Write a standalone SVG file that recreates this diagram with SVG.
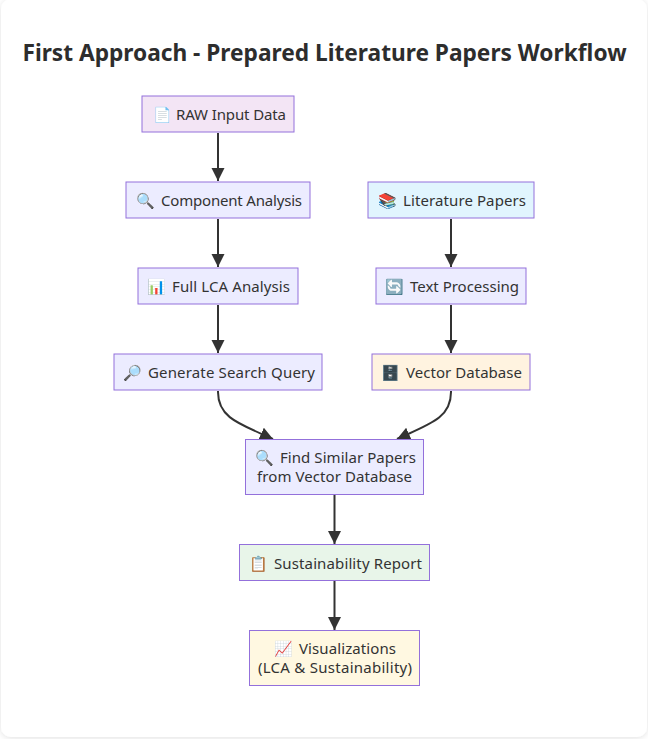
<svg xmlns="http://www.w3.org/2000/svg" width="648" height="739" viewBox="0 0 648 739">
<style>
text{font-family:"Noto Sans","Open Sans",sans-serif;fill:#333;font-size:15px}
.title{font-size:22.700px;font-weight:700;fill:#2d2d2d;text-anchor:middle}
.n{stroke:#9370db;stroke-width:1;fill:#ececff}
.e{fill:none;stroke:#333;stroke-width:2}
</style>
<defs>
<marker id="a" markerUnits="userSpaceOnUse" markerWidth="15" markerHeight="15" refX="13" refY="6.500" orient="auto"><path d="M0 0L13 6.500L0 13z" fill="#333"/></marker>
<filter id="s" x="-5%" y="-5%" width="110%" height="110%"><feDropShadow dx="0" dy="1" stdDeviation="3" flood-color="#000" flood-opacity=".12"/></filter>
</defs>
<rect width="648" height="739" fill="#fff"/>
<rect x="1" y="-1" width="646" height="738" rx="10" fill="#fff" filter="url(#s)"/>
<text class="title" x="324.500" y="61">First Approach - Prepared Literature Papers Workflow</text>
<g id="connectors">
<path class="e" marker-end="url(#a)" d="M218 133V181"/>
<path class="e" marker-end="url(#a)" d="M218 219V267"/>
<path class="e" marker-end="url(#a)" d="M218 305V353"/>
<path class="e" marker-end="url(#a)" d="M451 219V267"/>
<path class="e" marker-end="url(#a)" d="M451 305V353"/>
<path class="e" marker-end="url(#a)" d="M218 391V392C218 418 240 424 273 439"/>
<path class="e" marker-end="url(#a)" d="M451 391V392C451 418 430 424 397 439"/>
<path class="e" marker-end="url(#a)" d="M334.500 495V544"/>
<path class="e" marker-end="url(#a)" d="M334.500 581V630"/>
</g>
<g id="raw"><rect class="n" style="fill:#f3e5f5" x="142" y="96" width="152" height="36"/><text y="120"><tspan x="153">📄</tspan><tspan x="176" textLength="110">RAW Input Data</tspan></text></g>
<g id="component"><rect class="n" x="126" y="182" width="184" height="36"/><text y="206"><tspan x="136">🔍</tspan><tspan x="161" textLength="141">Component Analysis</tspan></text></g>
<g id="lca"><rect class="n" x="138" y="268" width="160" height="36"/><text y="292"><tspan x="147">📊</tspan><tspan x="172" textLength="118">Full LCA Analysis</tspan></text></g>
<g id="query"><rect class="n" x="114" y="354" width="208" height="36"/><text y="378"><tspan x="123">🔎</tspan><tspan x="148" textLength="167">Generate Search Query</tspan></text></g>
<g id="papers"><rect class="n" style="fill:#e1f5fe" x="368" y="182" width="166" height="36"/><text y="206"><tspan x="378">📚</tspan><tspan x="403" textLength="123">Literature Papers</tspan></text></g>
<g id="text"><rect class="n" x="376" y="268" width="150" height="36"/><text y="292"><tspan x="385">🔄</tspan><tspan x="410" textLength="109">Text Processing</tspan></text></g>
<g id="vector"><rect class="n" style="fill:#fff3e0" x="372" y="354" width="158" height="36"/><text y="378"><tspan x="381">🗄️</tspan><tspan x="406" textLength="116">Vector Database</tspan></text></g>
<g id="similar"><rect class="n" x="245.500" y="439.500" width="178" height="55"/><text y="463"><tspan x="255">🔍</tspan><tspan x="280" textLength="136">Find Similar Papers</tspan></text><text x="257" y="482" textLength="155">from Vector Database</text></g>
<g id="report"><rect class="n" style="fill:#e8f5e9" x="239.500" y="544.500" width="190" height="36"/><text y="569"><tspan x="249">📋</tspan><tspan x="274" textLength="148">Sustainability Report</tspan></text></g>
<g id="viz"><rect class="n" style="fill:#fff8e1" x="249.500" y="630.500" width="170" height="55"/><text y="654"><tspan x="274">📈</tspan><tspan x="299" textLength="97">Visualizations</tspan></text><text x="258" y="673" textLength="154">(LCA &amp; Sustainability)</text></g>
</svg>
